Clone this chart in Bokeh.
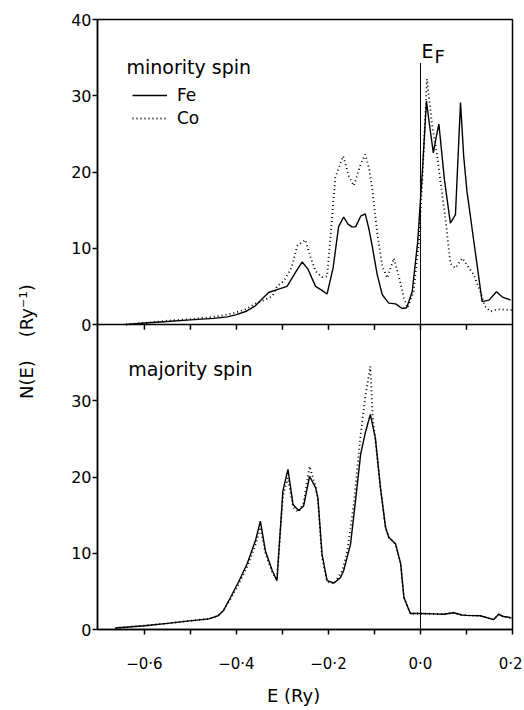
from bokeh.plotting import figure
from bokeh.models import (Range1d, FixedTicker, Legend, LegendItem, Span,
                          CustomJSTickFormatter)
from bokeh.core.properties import value
from bokeh.embed import file_html
from bokeh.resources import INLINE

# ---------------- data ----------------
# minority spin, Fe (solid)
min_fe_E = [-0.64, -0.60, -0.55, -0.50, -0.45, -0.42, -0.40, -0.38, -0.36, -0.345,
            -0.33, -0.31, -0.29, -0.27, -0.257, -0.245, -0.228, -0.215, -0.203, -0.19,
            -0.178, -0.167, -0.158, -0.149, -0.141, -0.130, -0.120, -0.112, -0.105, -0.094,
            -0.083, -0.069, -0.054, -0.040, -0.030, -0.018, -0.006, 0.004, 0.013, 0.020,
            0.028, 0.034, 0.040, 0.052, 0.065, 0.076, 0.087, 0.094, 0.101, 0.118,
            0.134, 0.149, 0.165, 0.178, 0.196]
min_fe_N = [0.0, 0.2, 0.4, 0.6, 0.8, 1.0, 1.3, 1.7, 2.4, 3.3,
            4.2, 4.6, 5.0, 7.0, 8.2, 7.3, 5.0, 4.5, 4.0, 7.4,
            12.8, 14.1, 13.2, 12.8, 12.8, 14.2, 14.5, 12.5, 10.3, 6.5,
            3.9, 2.8, 2.7, 2.1, 2.2, 4.3, 10.9, 20.0, 29.3, 26.0,
            22.5, 24.5, 26.3, 19.0, 13.3, 14.4, 29.1, 22.0, 17.5, 10.0,
            3.0, 3.2, 4.3, 3.6, 3.2]

# minority spin, Co (dotted)
min_co_E = [-0.64, -0.60, -0.55, -0.50, -0.45, -0.42, -0.40, -0.38, -0.36, -0.34,
            -0.322, -0.312, -0.297, -0.28, -0.268, -0.25, -0.24, -0.228, -0.214, -0.203,
            -0.195, -0.185, -0.168, -0.156, -0.145, -0.130, -0.120, -0.112, -0.105, -0.094,
            -0.083, -0.072, -0.058, -0.047, -0.036, -0.028, -0.015, -0.004, 0.005, 0.014,
            0.020, 0.026, 0.036, 0.043, 0.054, 0.065, 0.076, 0.091, 0.101, 0.116,
            0.130, 0.140, 0.152, 0.167, 0.198]
min_co_N = [0.0, 0.2, 0.5, 0.7, 1.0, 1.3, 1.6, 2.0, 2.7, 3.2,
            3.7, 5.0, 5.7, 7.5, 10.3, 11.1, 9.0, 7.0, 6.2, 6.3,
            12.0, 19.3, 22.1, 19.5, 18.2, 21.0, 22.3, 20.5, 17.9, 12.0,
            7.6, 6.1, 8.7, 6.3, 3.5, 2.2, 4.3, 10.5, 20.0, 32.2,
            29.0, 25.8, 22.3, 19.0, 14.0, 8.0, 7.4, 8.7, 7.8, 6.5,
            4.3, 2.4, 1.7, 2.0, 1.9]

# majority spin, Fe (solid)
maj_fe_E = [-0.663, -0.60, -0.55, -0.507, -0.46, -0.44, -0.428, -0.413, -0.395, -0.377,
            -0.359, -0.348, -0.337, -0.322, -0.312, -0.299, -0.288, -0.277, -0.265, -0.254,
            -0.241, -0.228, -0.223, -0.214, -0.203, -0.188, -0.174, -0.167, -0.152, -0.141,
            -0.130, -0.120, -0.109, -0.098, -0.087, -0.076, -0.069, -0.054, -0.043, -0.036,
            -0.022, 0.0, 0.029, 0.05, 0.072, 0.09, 0.101, 0.13, 0.159, 0.170,
            0.180, 0.192, 0.198]
maj_fe_N = [0.2, 0.5, 0.8, 1.1, 1.4, 1.8, 2.5, 4.2, 6.3, 8.6,
            11.6, 14.2, 10.3, 7.7, 6.4, 18.2, 21.0, 16.4, 15.6, 16.2,
            20.1, 18.6, 17.3, 9.9, 6.4, 6.1, 6.8, 7.7, 11.2, 17.0,
            23.0, 25.8, 28.2, 25.1, 18.6, 13.4, 12.1, 11.2, 8.6, 4.2,
            2.1, 2.1, 2.05, 2.0, 2.2, 1.9, 1.85, 1.8, 1.3, 2.0,
            1.7, 1.6, 1.5]

# majority spin, Co (dotted)
maj_co_E = [-0.663, -0.60, -0.55, -0.507, -0.46, -0.44, -0.428, -0.413, -0.395, -0.377,
            -0.359, -0.348, -0.337, -0.322, -0.312, -0.299, -0.288, -0.277, -0.265, -0.254,
            -0.241, -0.228, -0.223, -0.214, -0.203, -0.188, -0.170, -0.159, -0.145, -0.130,
            -0.120, -0.109, -0.104, -0.098, -0.087, -0.076, -0.069, -0.054, -0.043, -0.036,
            -0.022, 0.0, 0.029, 0.05, 0.072, 0.09, 0.101, 0.13, 0.159, 0.170,
            0.180, 0.192, 0.198]
maj_co_N = [0.2, 0.5, 0.8, 1.1, 1.4, 1.8, 2.5, 4.0, 6.0, 8.2,
            11.0, 13.4, 10.0, 7.5, 6.5, 17.5, 19.9, 16.0, 15.4, 16.6,
            21.4, 18.8, 17.0, 9.5, 6.3, 6.0, 7.7, 10.3, 16.4, 25.6,
            30.5, 34.5, 28.0, 24.8, 18.6, 13.4, 12.1, 11.2, 8.6, 4.2,
            2.1, 2.1, 2.05, 2.0, 2.2, 1.9, 1.85, 1.8, 1.3, 2.0,
            1.7, 1.6, 1.5]

x_major_ticks = [-0.6, -0.4, -0.2, 0.0, 0.2]
x_minor_ticks = [-0.5, -0.3, -0.1, 0.1]
y_panel_ticks_top = [0, 10, 20, 30, 40]
y_panel_ticks_bottom = [0, 10, 20, 30]
PANEL_MAX = 40
E_F = 0.0
E_F_TOP = 34.3

FONT = "DejaVu Sans"
NBSP = "\u00a0"

p = figure(width=522, height=709,
           x_range=Range1d(-0.702, 0.2), y_range=Range1d(-PANEL_MAX, PANEL_MAX),
           output_backend="svg", toolbar_location=None,
           min_border_left=97, min_border_right=10, min_border_top=19,
           min_border_bottom=80, background_fill_color="white",
           border_fill_color="white")
p.extra_y_ranges = {"bottom": Range1d(0, 2 * PANEL_MAX)}
p.xgrid.visible = False
p.ygrid.visible = False
p.outline_line_color = "black"
p.outline_line_width = 1.5
p.outline_line_alpha = 1.0

# axes
xa = p.xaxis[0]
xa.ticker = FixedTicker(ticks=x_major_ticks, minor_ticks=x_minor_ticks)
xa.formatter = CustomJSTickFormatter(code="""
    const s = Math.abs(tick).toFixed(1).replace('.', '\u00b7');
    return (tick < -1e-9 ? '\u2212' : '') + s;""")
xa.major_tick_in = 0
xa.major_tick_out = 5
xa.minor_tick_in = 0
xa.minor_tick_out = 5
xa.major_label_standoff = 20
xa.axis_label = "E (Ry)" + NBSP * 4
xa.axis_label_standoff = 9

ya = p.yaxis[0]
y_positions = y_panel_ticks_top + [t - PANEL_MAX for t in y_panel_ticks_bottom]
ya.ticker = FixedTicker(ticks=sorted(set(y_positions)), minor_ticks=[])
ya.formatter = CustomJSTickFormatter(args=dict(offset=PANEL_MAX), code="""
    const v = tick < 0 ? tick + offset : tick;
    return v.toFixed(0);""")
ya.major_tick_in = 0
ya.major_tick_out = 5
ya.major_label_standoff = 1
ya.axis_label = "N(E)" + NBSP * 4 + "(Ry\u207b\u00b9)" + NBSP * 6
ya.axis_label_standoff = 31

for ax in (xa, ya):
    ax.axis_line_color = "black"
    ax.axis_line_width = 1.5
    ax.major_tick_line_color = "black"
    ax.major_tick_line_width = 1.5
    ax.minor_tick_line_color = "black"
    ax.minor_tick_line_width = 1.5
    ax.major_label_text_font = FONT
    ax.major_label_text_color = "black"
    ax.axis_label_text_font = FONT
    ax.axis_label_text_font_style = "normal"
    ax.axis_label_text_color = "black"
    ax.axis_label_text_font_size = "18px"
xa.major_label_text_font_size = "15px"
ya.major_label_text_font_size = "16px"

# divider between panels, with ticks pointing down into the lower panel
p.add_layout(Span(location=0, dimension="width", line_color="black", line_width=1.5))
div_ticks = [t for t in sorted(x_major_ticks + x_minor_ticks) if t < 0.15]
p.segment(x0=div_ticks, y0=0, x1=div_ticks, y1=-0.7, line_color="black", line_width=1.5)

# Fermi energy line
p.segment(x0=[E_F], y0=[-PANEL_MAX], x1=[E_F], y1=[E_F_TOP], line_color="black", line_width=1)

# curves
fe_top = p.line(min_fe_E, min_fe_N, line_color="black", line_width=1.4)
co_top = p.line(min_co_E, min_co_N, line_color="black", line_width=1.8, line_dash="1 3")
p.line(maj_fe_E, maj_fe_N, line_color="black", line_width=1.4, y_range_name="bottom")
p.line(maj_co_E, maj_co_N, line_color="black", line_width=1.8, line_dash="1 3",
       y_range_name="bottom")

# texts
p.text(x=[-0.639], y=[33.8], text=["minority spin"], text_font=value(FONT),
       text_font_size="19px", text_baseline="alphabetic", text_align="left",
       text_color="black")
p.text(x=[-0.635], y=[34.2], text=["majority spin"], text_font=value(FONT),
       text_font_size="19px", text_baseline="alphabetic", text_align="left",
       text_color="black", y_range_name="bottom")
p.text(x=[E_F], y=[PANEL_MAX], text=["E"], x_offset=1, y_offset=31,
       text_font=value(FONT), text_font_size="19px", text_baseline="alphabetic",
       text_align="left", text_color="black")
p.text(x=[E_F], y=[PANEL_MAX], text=["F"], x_offset=14, y_offset=37,
       text_font=value(FONT), text_font_size="18px", text_baseline="alphabetic",
       text_align="left", text_color="black")

legend = Legend(items=[LegendItem(label="Fe", renderers=[fe_top]),
                       LegendItem(label="Co", renderers=[co_top])],
                location=(35, 501), border_line_color=None, background_fill_alpha=0,
                padding=0, margin=0, spacing=3, glyph_width=35, glyph_height=20,
                label_height=20, label_standoff=10, label_text_font=FONT,
                label_text_font_size="17px", label_text_color="black")
p.add_layout(legend)

open("out.html", "w").write(file_html(p, INLINE))
